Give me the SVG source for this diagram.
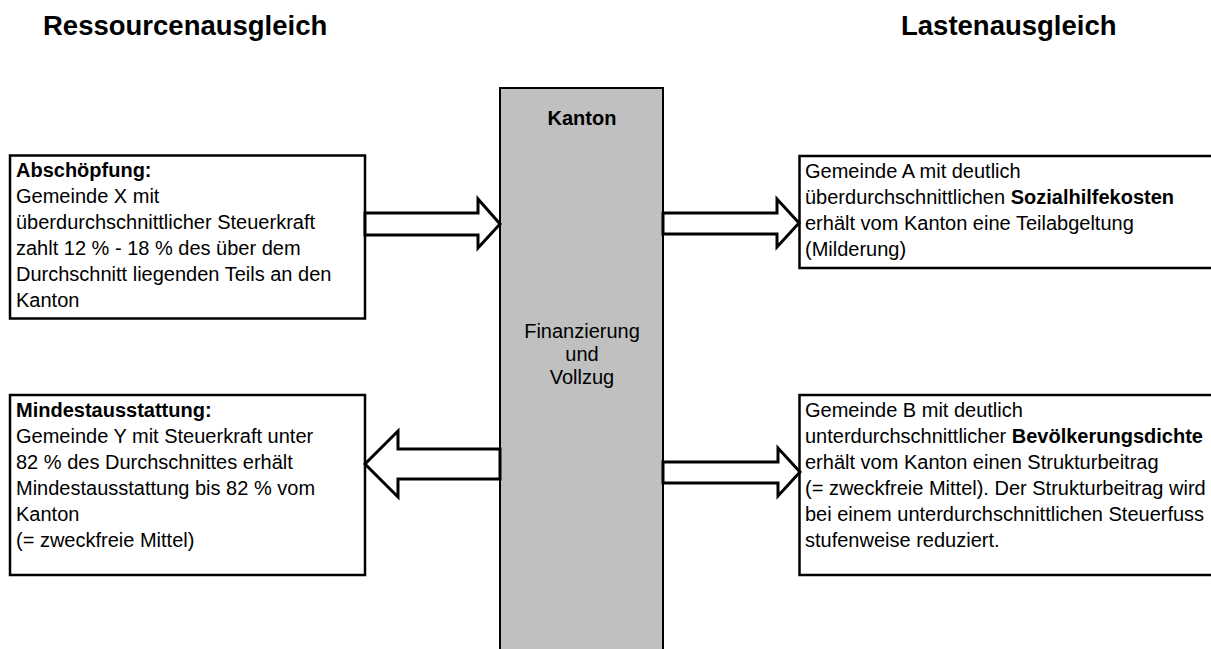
<svg xmlns="http://www.w3.org/2000/svg" width="1211" height="649" viewBox="0 0 1211 649">
<style>
text{font-family:"Liberation Sans",Arial,sans-serif;fill:#000}
.h{font-size:27.5px;font-weight:bold}
.t{font-size:20px}
.b{font-weight:bold}
.box{fill:#fff;stroke:#000;stroke-width:2.5}
.arr{fill:#fff;stroke:#000;stroke-width:3;stroke-linejoin:miter}
</style>
<rect width="1211" height="649" fill="#fff"/>
<text class="h" x="43" y="35">Ressourcenausgleich</text>
<text class="h" x="901" y="35">Lastenausgleich</text>

<g id="kanton">
<rect x="500" y="88" width="163" height="580" fill="#c0c0c0" stroke="#000" stroke-width="2"/>
<text class="t b" x="582" y="125" text-anchor="middle">Kanton</text>
<text class="t" x="582" y="338" text-anchor="middle">Finanzierung</text>
<text class="t" x="582" y="361" text-anchor="middle">und</text>
<text class="t" x="582" y="384" text-anchor="middle">Vollzug</text>
</g>

<g id="abschoepfung">
<rect class="box" x="10" y="155.5" width="355" height="163"/>
<text class="t" x="16"><tspan class="b" x="16" y="177">Abschöpfung:</tspan><tspan x="16" y="203">Gemeinde X mit</tspan><tspan x="16" y="229">überdurchschnittlicher Steuerkraft</tspan><tspan x="16" y="255">zahlt 12 % - 18 % des über dem</tspan><tspan x="16" y="281">Durchschnitt liegenden Teils an den</tspan><tspan x="16" y="307">Kanton</tspan></text>
</g>

<g id="mindestausstattung">
<rect class="box" x="10" y="395" width="355" height="180"/>
<text class="t" x="16"><tspan class="b" x="16" y="417">Mindestausstattung:</tspan><tspan x="16" y="443">Gemeinde Y mit Steuerkraft unter</tspan><tspan x="16" y="469">82 % des Durchschnittes erhält</tspan><tspan x="16" y="495">Mindestausstattung bis 82 % vom</tspan><tspan x="16" y="521">Kanton</tspan><tspan x="16" y="547">(= zweckfreie Mittel)</tspan></text>
</g>

<g id="gemeindeA">
<rect class="box" x="799.5" y="156" width="430" height="112"/>
<text class="t" x="805"><tspan x="805" y="178">Gemeinde A mit deutlich</tspan><tspan x="805" y="204">überdurchschnittlichen <tspan class="b">Sozialhilfekosten</tspan></tspan><tspan x="805" y="230">erhält vom Kanton eine Teilabgeltung</tspan><tspan x="805" y="256">(Milderung)</tspan></text>
</g>

<g id="gemeindeB">
<rect class="box" x="799.5" y="395" width="430" height="180"/>
<text class="t" x="805"><tspan x="805" y="417">Gemeinde B mit deutlich</tspan><tspan x="805" y="443">unterdurchschnittlicher <tspan class="b">Bevölkerungsdichte</tspan></tspan><tspan x="805" y="469">erhält vom Kanton einen Strukturbeitrag</tspan><tspan x="805" y="495">(= zweckfreie Mittel). Der Strukturbeitrag wird</tspan><tspan x="805" y="521">bei einem unterdurchschnittlichen Steuerfuss</tspan><tspan x="805" y="547">stufenweise reduziert.</tspan></text>
</g>

<g id="connectors">
<polygon class="arr" points="365,213 478,213 478,199 500,224 478,248 478,235 365,235"/>
<polygon class="arr" points="663,213 777,213 777,199 799,223 777,247 777,234 663,234"/>
<polygon class="arr" points="500,449 398,449 398,431 365,464 398,497 398,479 500,479"/>
<polygon class="arr" points="663,462 778,462 778,448 800,472 778,496 778,483 663,483"/>
</g>
</svg>
